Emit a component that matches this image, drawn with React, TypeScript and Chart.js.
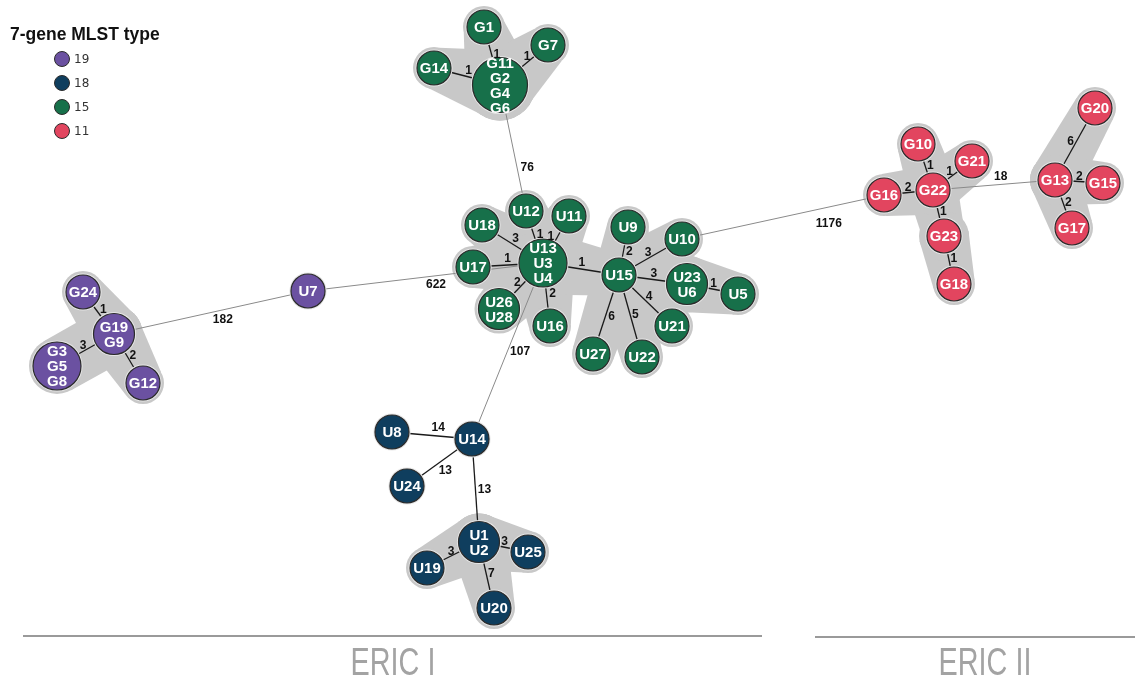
import React, { useEffect, useRef } from "react";
import { Chart, registerables } from "chart.js";
Chart.register(...registerables);

const legendTitle = "7-gene MLST type";
const stTypes = ["19", "18", "15", "11"];
const stColors = ["#6B51A1", "#0F3E5E", "#17704A", "#E2455F"];
const groupNames = ["ERIC I", "ERIC II"];

const nodeLabels = [
  "G24", "G19\nG9", "G3\nG5\nG8", "G12", "U7",
  "G1", "G7", "G14", "G11\nG2\nG4\nG6",
  "U12", "U11", "U18", "U13\nU3\nU4", "U17", "U26\nU28", "U16",
  "U9", "U10", "U15", "U23\nU6", "U5", "U21", "U27", "U22",
  "U8", "U14", "U24", "U1\nU2", "U25", "U19", "U20",
  "G10", "G21", "G16", "G22", "G23", "G18", "G20", "G13", "G15", "G17",
];
const nodeX = [
  83, 114, 57, 143, 308,
  484, 548, 434, 500,
  526, 569, 482, 543, 473, 499, 550,
  628, 682, 619, 687, 738, 672, 593, 642,
  392, 472, 407, 479, 528, 427, 494,
  918, 972, 884, 933, 944, 954, 1095, 1055, 1103, 1072,
];
const nodeY = [
  292, 334, 366, 383, 291,
  27, 45, 68, 85,
  211, 216, 225, 263, 267, 309, 326,
  227, 239, 275, 284, 294, 326, 354, 357,
  432, 439, 486, 542, 552, 568, 608,
  144, 161, 195, 190, 236, 284, 108, 180, 183, 228,
];
const nodeST = [
  0, 0, 0, 0, 0,
  2, 2, 2, 2,
  2, 2, 2, 2, 2, 2, 2,
  2, 2, 2, 2, 2, 2, 2, 2,
  1, 1, 1, 1, 1, 1, 1,
  3, 3, 3, 3, 3, 3, 3, 3, 3, 3,
];

const edgeFrom = [1, 1, 1, 1, 4, 8, 8, 8, 8, 12, 12, 12, 12, 12, 12, 12, 18, 18, 18, 19, 18, 18, 18, 12, 17, 25, 25, 25, 27, 27, 27, 34, 34, 34, 34, 35, 34, 38, 38, 38];
const edgeTo = [0, 2, 3, 4, 12, 5, 6, 7, 9, 9, 10, 11, 13, 14, 15, 18, 16, 17, 19, 20, 21, 23, 22, 25, 33, 24, 26, 27, 28, 29, 30, 31, 32, 33, 35, 36, 38, 37, 39, 40];
const edgeWeight = [1, 3, 2, 182, 622, 1, 1, 1, 76, 1, 1, 3, 1, 2, 2, 1, 2, 3, 3, 1, 4, 5, 6, 107, 1176, 14, 13, 13, 3, 3, 7, 1, 1, 2, 1, 1, 18, 6, 2, 2];
// label placement along each edge (fraction) and signed perpendicular offset (px)
const edgeLabelT = [0.5, 0.5, 0.5, 0.55, 0.54, 0.5, 0.62, 0.5, 0.67, 0.5, 0.5, 0.5, 0.5, 0.5, 0.5, 0.5, 0.5, 0.5, 0.5, 0.5, 0.5, 0.5, 0.5, 0.48, 0.71, 0.43, 0.5, 0.5, 0.5, 0.5, 0.5, 0.5, 0.5, 0.5, 0.5, 0.5, 0.56, 0.5, 0.5, 0.5];
const edgeLabelOff = [6, 5, -5, 10, 9, 5, -4, 6, -10, 6, -6, 6, 6, 5, -6, -6, 6, -5, -6, -5, -5, -5, -6, -12, 16, 8, -10, -9, -5, 4, -5, 5, -5, 5, -5, -5, -8, -5, -5, -5];

const FONT = "'Liberation Sans', Arial, sans-serif";
const W = 1135;
const H = 677;

function nodeRadius(i: number) {
  const n = nodeLabels[i].split("\n").length;
  return 13.5 + 3.5 * n;
}

export default function App() {
  const ref = useRef<HTMLCanvasElement | null>(null);
  useEffect(() => {
    if (!ref.current) return;
    const datasets = stTypes.map((st, g) => ({
      label: st,
      data: nodeX
        .map((x, i) => ({ x, y: nodeY[i], i }))
        .filter((p) => nodeST[p.i] === g),
      backgroundColor: stColors[g],
      borderColor: "#2b2b2b",
      borderWidth: 1.2,
      pointRadius: (ctx: any) => (ctx.raw ? nodeRadius(ctx.raw.i) : 0),
      pointHoverRadius: (ctx: any) => (ctx.raw ? nodeRadius(ctx.raw.i) : 0),
      clip: false as any,
    }));

    const px = (chart: any, i: number) => [
      chart.scales.x.getPixelForValue(nodeX[i]),
      chart.scales.y.getPixelForValue(nodeY[i]),
    ];

    const netPlugin = {
      id: "net",
      beforeDatasetsDraw(chart: any) {
        const ctx = chart.ctx;
        ctx.save();
        // shaded clusters
        ctx.fillStyle = "#C8C8C8";
        edgeWeight.forEach((w, k) => {
          if (w > 7) return;
          const [x1, y1] = px(chart, edgeFrom[k]);
          const [x2, y2] = px(chart, edgeTo[k]);
          const r1 = nodeRadius(edgeFrom[k]) + 8;
          const r2 = nodeRadius(edgeTo[k]) + 4;
          const dx = x2 - x1, dy = y2 - y1;
          const L = Math.hypot(dx, dy) || 1;
          const nx = -dy / L, ny = dx / L;
          ctx.beginPath();
          ctx.moveTo(x1 + nx * r1, y1 + ny * r1);
          ctx.lineTo(x2 + nx * r2, y2 + ny * r2);
          ctx.lineTo(x2 - nx * r2, y2 - ny * r2);
          ctx.lineTo(x1 - nx * r1, y1 - ny * r1);
          ctx.closePath();
          ctx.fill();
          ctx.beginPath();
          ctx.arc(x1, y1, r1, 0, Math.PI * 2);
          ctx.fill();
          ctx.beginPath();
          ctx.arc(x2, y2, r2, 0, Math.PI * 2);
          ctx.fill();
        });
        // edges
        edgeWeight.forEach((w, k) => {
          const [x1, y1] = px(chart, edgeFrom[k]);
          const [x2, y2] = px(chart, edgeTo[k]);
          ctx.beginPath();
          ctx.moveTo(x1, y1);
          ctx.lineTo(x2, y2);
          if (w >= 18) {
            ctx.strokeStyle = "#8a8a8a";
            ctx.lineWidth = 1;
          } else {
            ctx.strokeStyle = "#1a1a1a";
            ctx.lineWidth = 1.3;
          }
          ctx.stroke();
        });
        // halos
        nodeX.forEach((_, i) => {
          const [x, y] = px(chart, i);
          ctx.beginPath();
          ctx.arc(x, y, nodeRadius(i) + 1.6, 0, Math.PI * 2);
          ctx.fillStyle = "#e6e6e6";
          ctx.fill();
        });
        ctx.restore();
      },
      afterDatasetsDraw(chart: any) {
        const ctx = chart.ctx;
        ctx.save();
        // node labels
        ctx.fillStyle = "#ffffff";
        ctx.textAlign = "center";
        ctx.textBaseline = "middle";
        ctx.font = `bold 15px ${FONT}`;
        nodeLabels.forEach((lab, i) => {
          const [x, y] = px(chart, i);
          const lines = lab.split("\n");
          const lh = 15;
          lines.forEach((ln, j) => {
            ctx.fillText(ln, x, y + (j - (lines.length - 1) / 2) * lh + 1);
          });
        });
        // edge labels
        ctx.fillStyle = "#111111";
        edgeWeight.forEach((w, k) => {
          const [x1, y1] = px(chart, edgeFrom[k]);
          const [x2, y2] = px(chart, edgeTo[k]);
          const dx = x2 - x1, dy = y2 - y1;
          const L = Math.hypot(dx, dy) || 1;
          const nx = -dy / L, ny = dx / L;
          const t = edgeLabelT[k], o = edgeLabelOff[k];
          const lx = x1 + dx * t + nx * o;
          const ly = y1 + dy * t + ny * o;
          ctx.font = `bold 12px ${FONT}`;
          ctx.fillText(String(w), lx, ly);
        });
        // legend
        ctx.textAlign = "left";
        ctx.textBaseline = "alphabetic";
        ctx.fillStyle = "#111111";
        ctx.font = `bold 17.5px ${FONT}`;
        ctx.fillText(legendTitle, 10, 40);
        stTypes.forEach((st, g) => {
          const cy = 59 + g * 24;
          ctx.beginPath();
          ctx.arc(62, cy, 7.5, 0, Math.PI * 2);
          ctx.fillStyle = stColors[g];
          ctx.fill();
          ctx.strokeStyle = "#2b2b2b";
          ctx.lineWidth = 1;
          ctx.stroke();
          ctx.fillStyle = "#333333";
          ctx.font = `12px 'DejaVu Sans', Verdana, sans-serif`;
          ctx.textBaseline = "middle";
          ctx.fillText(st, 74, cy + 1);
        });
        // group bars
        ctx.strokeStyle = "#9a9a9a";
        ctx.lineWidth = 2;
        ctx.beginPath();
        ctx.moveTo(23, 636);
        ctx.lineTo(762, 636);
        ctx.moveTo(815, 637);
        ctx.lineTo(1135, 637);
        ctx.stroke();
        ctx.fillStyle = "#a3a3a3";
        ctx.textAlign = "center";
        ctx.textBaseline = "alphabetic";
        ctx.font = `36px 'Liberation Sans Narrow', 'Arial Narrow', ${FONT}`;
        const drawNarrow = (txt: string, cx: number) => {
          ctx.save();
          ctx.translate(cx, 675);
          ctx.scale(0.8, 1.08);
          ctx.fillText(txt, 0, 0);
          ctx.restore();
        };
        drawNarrow(groupNames[0], 393);
        drawNarrow(groupNames[1], 985);
        ctx.restore();
      },
    };

    const chart: any = new Chart(ref.current, {
      type: "scatter",
      data: { datasets: datasets as any },
      options: {
        animation: false,
        responsive: true,
        maintainAspectRatio: false,
        events: [],
        layout: { padding: 0 },
        plugins: { legend: { display: false }, tooltip: { enabled: false } },
        scales: {
          x: { type: "linear", min: 0, max: W, display: false },
          y: { type: "linear", min: 0, max: H, reverse: true, display: false },
        },
      },
      plugins: [netPlugin],
    });
    // make the layout units coincide with pixels of the page
    const a = chart.chartArea;
    chart.options.scales.x.min = a.left;
    chart.options.scales.x.max = a.right;
    chart.options.scales.y.min = a.top;
    chart.options.scales.y.max = a.bottom;
    chart.update();
    return () => chart.destroy();
  }, []);

  return (
    <div style={{ position: "absolute", left: 0, top: 0, width: W, height: H, background: "#fff" }}>
      <canvas ref={ref} />
    </div>
  );
}
